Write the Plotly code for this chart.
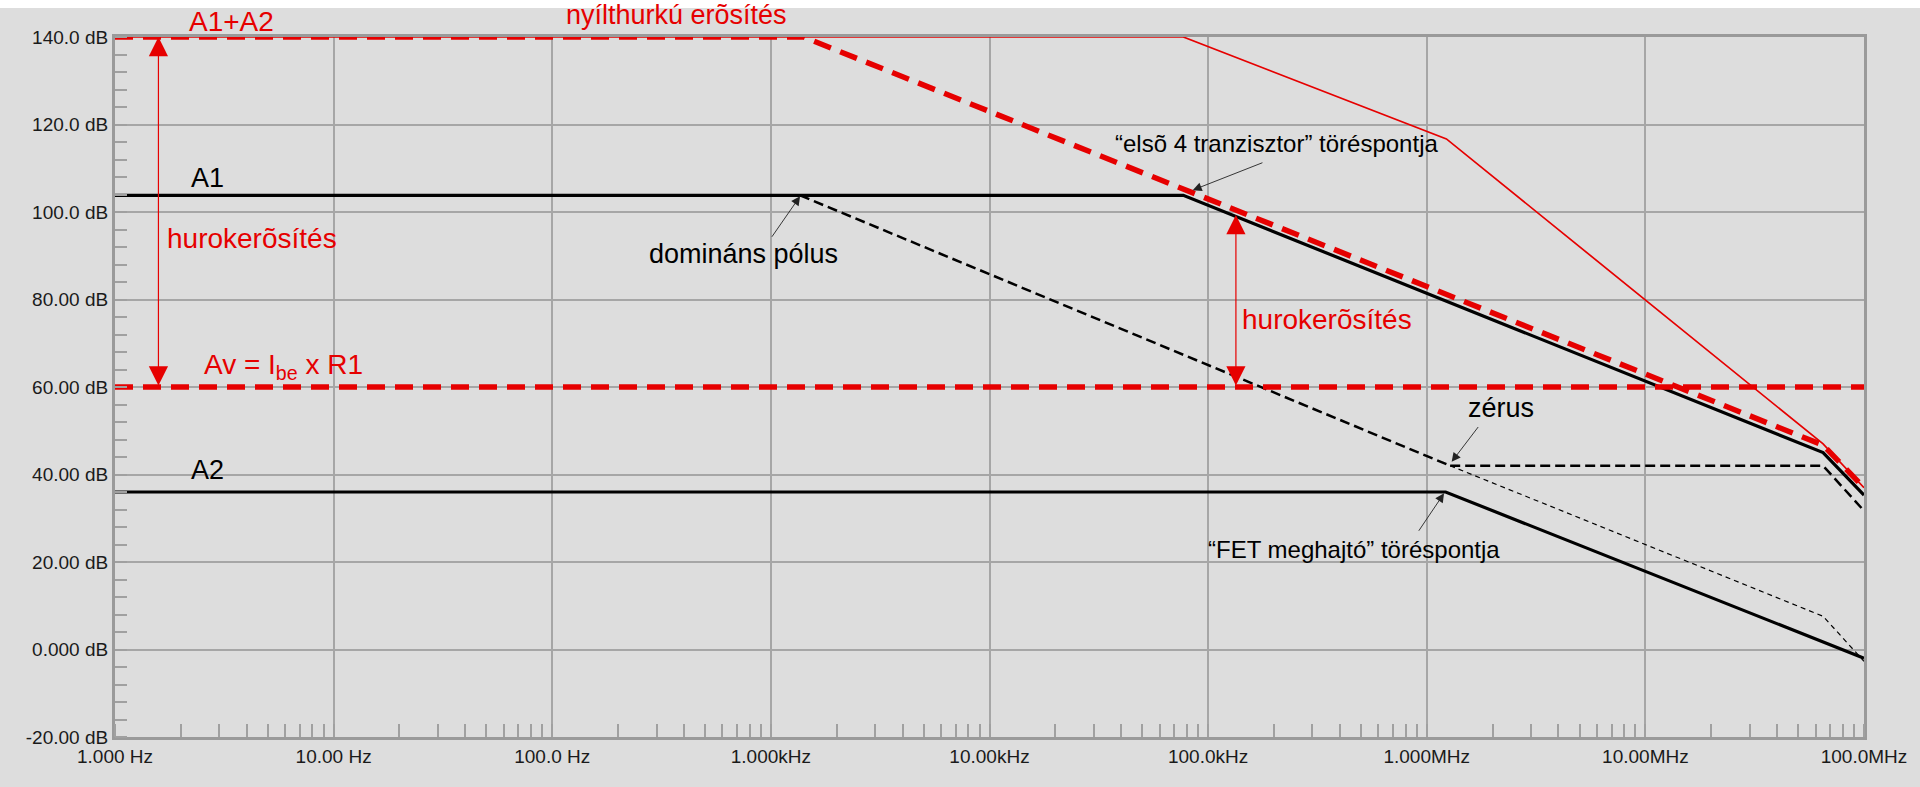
import numpy as np
import plotly.graph_objects as go

# frequency axis labels (Hz) and dB axis labels
freq_ticks = [1, 10, 100, 1e3, 1e4, 1e5, 1e6, 1e7, 1e8]
freq_labels = ["1.000 Hz", "10.00 Hz", "100.0 Hz", "1.000kHz", "10.00kHz",
               "100.0kHz", "1.000MHz", "10.00MHz", "100.0MHz"]
db_ticks = [-20, 0, 20, 40, 60, 80, 100, 120, 140]
db_labels = ["-20.00 dB", "0.000 dB", "20.00 dB", "40.00 dB", "60.00 dB",
             "80.00 dB", "100.0 dB", "120.0 dB", "140.0 dB"]
DB_MIN, DB_MAX = -20, 140

# red solid: open loop gain (real)
open_f = [1, 77e3, 1.23e6, 65e6, 100e6]
open_db = [140, 140, 116.7, 47, 37]
# red dashed: A1+A2 with dominant pole
a12_f = [1, 1.41e3, 65e6, 100e6]
a12_db = [140, 140, 46.7, 37]
# red dashed: closed loop gain Av
av_f = [1, 100e6]
av_db = [60, 60]
# black solid A1
a1_f = [1, 77e3, 65e6, 100e6]
a1_db = [103.8, 103.8, 45, 35.3]
# black dashed: dominant pole slope
pole_f = [1.36e3, 1.28e6]
pole_db = [103.8, 42]
# black dashed after zero
zero_f = [1.28e6, 65e6, 100e6]
zero_db = [42, 42, 31.7]
# thin dashed: slope without zero
nozero_f = [1.28e6, 65e6, 100e6]
nozero_db = [42, 7.6, -2.7]
# black solid A2
a2_f = [1, 1.22e6, 100e6]
a2_db = [36, 36, -2]

RED = "#e60000"
FONT = "Liberation Sans, Arial, sans-serif"

fig = go.Figure()

def line(f, db, color, width, dash="solid"):
    fig.add_trace(go.Scatter(x=f, y=db, mode="lines", showlegend=False,
                             hoverinfo="skip",
                             line=dict(color=color, width=width, dash=dash)))

line(nozero_f, nozero_db, "black", 1.2, "5px,4px")
line(zero_f, zero_db, "black", 2.5, "10px,5px")
line(pole_f, pole_db, "black", 2.5, "10px,5px")
line(a2_f, a2_db, "black", 3.2)
line(a1_f, a1_db, "black", 3.2)
line(av_f, av_db, RED, 5.5, "18px,10px")
line(open_f, open_db, RED, 1.7)
line(a12_f, a12_db, RED, 5.5, "18px,10px")

# text labels: (text, freq, dB, color, size)
labels = [
    ("A1+A2", 3.4, 143.6, RED, 28),
    ("nyílthurkú erõsítés", 372, 145.1, RED, 27),
    ("A1", 2.66, 107.8, "black", 27),
    ("A2", 2.64, 41.0, "black", 27),
    ("hurokerõsítés", 4.24, 93.9, RED, 28),
    ("Av = I<sub>be</sub> x R1", 5.87, 64.8, RED, 28),
    ("hurokerõsítés", 348e3, 75.4, RED, 28),
    ("domináns pólus", 753, 90.3, "black", 27),
    ("“elsõ 4 tranzisztor” töréspontja", 205e3, 115.6, "black", 24),
    ("zérus", 2.18e6, 55.3, "black", 27),
    ("“FET meghajtó” töréspontja", 463e3, 22.9, "black", 24),
]
for text, f, db, color, size in labels:
    # paper y so that labels above the top gridline are still drawn
    fig.add_annotation(x=np.log10(f), y=(db - DB_MIN) / (DB_MAX - DB_MIN),
                       xref="x", yref="paper", yanchor="middle", xanchor="center",
                       text=text, showarrow=False,
                       font=dict(family=FONT, size=size, color=color))

# pointer arrows: (tail f, tail dB, tip f, tip dB)
pointers = [
    (1.0e3, 94.0, 1.36e3, 103.6),
    (180e3, 111.4, 85e3, 105.0),
    (1.74e6, 51.2, 1.30e6, 42.9),
    (0.91e6, 26.8, 1.20e6, 35.7),
]
for tf, tdb, hf, hdb in pointers:
    fig.add_annotation(x=np.log10(hf), y=hdb, ax=np.log10(tf), ay=tdb,
                       xref="x", yref="y", axref="x", ayref="y", text="",
                       showarrow=True, arrowhead=2, arrowsize=2,
                       arrowwidth=0.9, arrowcolor="#222222", standoff=0)

# loop gain double arrows: (freq, low dB, high dB)
loop_arrows = [(1.58, 60, 140), (134e3, 60, 99.3)]
for f, lo, hi in loop_arrows:
    fig.add_annotation(x=np.log10(f), y=hi, ax=np.log10(f), ay=lo,
                       xref="x", yref="y", axref="x", ayref="y", text="",
                       showarrow=True, arrowside="end+start",
                       arrowhead=2, startarrowhead=2,
                       arrowsize=3.2, startarrowsize=3.2, arrowwidth=1.2,
                       arrowcolor=RED, standoff=0, startstandoff=0)

# thin white strip along the top edge of the picture
fig.add_shape(type="rect", xref="paper", yref="paper", x0=-0.1, x1=1.1,
              y0=1 + 29 / 700, y1=1.08, fillcolor="white", line_width=0,
              layer="below")

grid = "#a6a6a6"
fig.update_xaxes(type="log", range=[0, 8], tickvals=freq_ticks, ticktext=freq_labels,
                 showgrid=True, gridcolor=grid, gridwidth=2, ticks="",
                 showline=True, mirror=True, linecolor="#9a9a9a", linewidth=3,
                 tickfont=dict(family=FONT, size=19, color="#1a1a1a"),
                 minor=dict(ticks="inside", ticklen=13, tickwidth=1.5,
                            tickcolor="#a0a0a0", dtick="D1", showgrid=False),
                 zeroline=False, automargin=False)
fig.update_yaxes(range=[DB_MIN, DB_MAX], tickvals=db_ticks, ticktext=db_labels,
                 showgrid=True, gridcolor=grid, gridwidth=2, ticks="",
                 showline=True, mirror=True, linecolor="#9a9a9a", linewidth=3,
                 tickfont=dict(family=FONT, size=19, color="#1a1a1a"),
                 minor=dict(ticks="inside", ticklen=12, tickwidth=1.5,
                            tickcolor="#a0a0a0", dtick=4, showgrid=False),
                 zeroline=False, automargin=False)

fig.update_layout(
    width=1920, height=787,
    margin=dict(l=115, r=56, t=37, b=50),
    paper_bgcolor="#dddddd", plot_bgcolor="#dddddd",
    font=dict(family=FONT),
)

fig.write_html("out.html", config={"displayModeBar": False},
               post_script="document.body.style.margin='0';"
                           "document.body.style.overflow='hidden';")
